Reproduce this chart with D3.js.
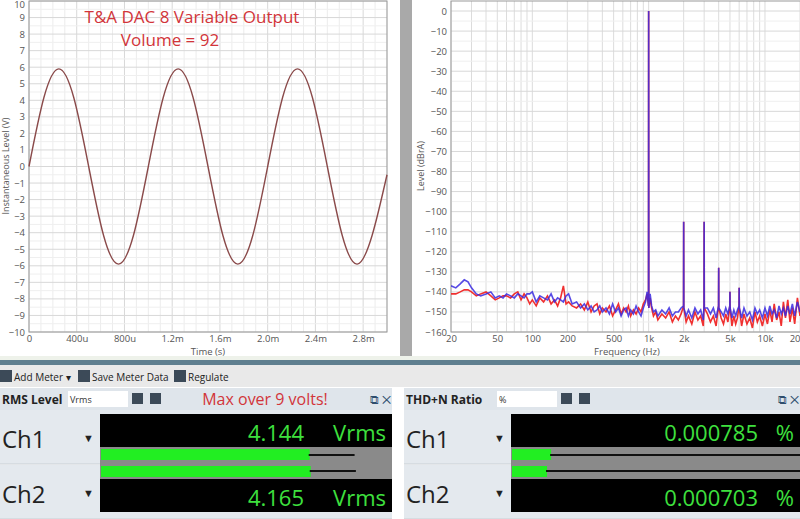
<!DOCTYPE html>
<html><head><meta charset="utf-8">
<script src="https://cdn.jsdelivr.net/npm/d3@7/dist/d3.min.js"></script>
<style>body{margin:0;background:#fff;font-family:"Open Sans",sans-serif}svg{display:block}</style>
</head><body><svg id="c" width="800" height="519"></svg>
<script>
// ---- waveform data (time in µs, volts) ----
const timeUs = [0,125,250,375,500,625,750,875,1000,1125,1250,1375,1500,1625,1750,1875,2000,2125,2250,2375,2500,2625,2750,2875,3000];
const volts  = [0,4.17,5.9,4.17,0,-4.17,-5.9,-4.17,0,4.17,5.9,4.17,0,-4.17,-5.9,-4.17,0,4.17,5.9,4.17,0,-4.17,-5.9,-4.17,-0.5];
const timeTicks = [0,400,800,1200,1600,2000,2400,2800];
const timeTickLabels = ["0","400u","800u","1.2m","1.6m","2.0m","2.4m","2.8m"];
// ---- spectrum data ----
const noiseFreq = [20,22,24,26,28,30,33,36,40,44, 48,52,56,60,65,70,75,80,85,90, 95,100,108,116,125,135,145,155,165,175, 185,195,205,220,240,260,280,300,320,340, 360,380,400,430,460,490,520,550,580,610, 640,670,700,740,780,820,860,900,940,970, 1030,1060,1100,1150,1200,1300,1400,1500,1600,1700, 1800,1900,2100,2200,2350,2500,2650,2800,2950,3200, 3400,3600,3800,4200,4400,4600,4800,5200,5400,5600, 5800,6300,6600,7000,7400,7800,8200,8600,9000,9500, 10000,10500,11000,11500,12000,12600,13200,13800,14400,15000, 15700,16400,17200,18000,19000,20000];
const redLevel = [-141,-141,-140,-139,-139,-140,-142,-141,-140,-142, -144,-143,-142,-142,-143,-141,-140,-144,-141,-143, -146,-144,-147,-143,-145,-142,-146,-144,-147,-143, -137,-146,-145,-147,-148,-146,-149,-145,-150,-147, -146,-151,-148,-150,-147,-152,-149,-146,-151,-148, -150,-147,-152,-149,-151,-148,-150,-146,-144,-141, -143,-148,-152,-150,-154,-151,-153,-150,-155,-152, -154,-151,-155,-152,-156,-150,-154,-152,-157,-151, -155,-152,-157,-153,-156,-151,-155,-157,-152,-156, -153,-157,-151,-156,-153,-158,-150,-155,-152,-157, -151,-156,-149,-155,-146,-154,-150,-157,-145,-153, -144,-155,-148,-156,-143,-152];
const blueLevel = [-137,-138,-136,-134,-135,-138,-141,-142,-141,-140, -143,-142,-143,-141,-142,-143,-141,-142,-143,-141, -141,-140,-145,-142,-143,-144,-141,-145,-143,-144, -145,-142,-141,-146,-145,-148,-146,-149,-147,-150, -149,-147,-150,-148,-151,-146,-150,-148,-152,-149, -148,-152,-149,-151,-147,-150,-152,-148,-145,-140, -141,-147,-150,-149,-152,-149,-151,-148,-152,-150, -150,-148,-152,-149,-153,-148,-151,-149,-154,-148, -151,-148,-153,-150,-152,-148,-151,-153,-149,-152, -149,-153,-148,-152,-150,-154,-148,-151,-149,-153, -148,-152,-147,-151,-149,-153,-147,-151,-148,-152, -147,-151,-146,-152,-145,-150];
const peakFreq = [1000,2000,3000,4000,5000,6000];
const peakLevel = [0,-105,-105,-128,-140,-138];
const freqTicks = [20,50,100,200,500,1000,2000,5000,10000,20000];
const freqTickLabels = ["20","50","100","200","500","1k","2k","5k","10k","20"];
// ---- meters ----
const rmsValues = [4.144,4.165];
const thdValues = [0.000785,0.000703];
const chNames = ["Ch1","Ch2"];

const svg = d3.select("#c");
const gray = "#555";
svg.append("rect").attr("x",0).attr("y",0).attr("width",800).attr("height",519).attr("fill","#fff");
svg.append("rect").attr("x",400).attr("y",0).attr("width",12).attr("height",358).attr("fill","#a9a9a9");
svg.append("rect").attr("x",0).attr("y",356).attr("width",800).attr("height",4).attr("fill","#eef2ea");
svg.append("rect").attr("x",0).attr("y",360).attr("width",800).attr("height",5).attr("fill","#5f7f8f");

// ===== left: waveform =====
const L = {x0:29,x1:387,y0:1,y1:332};
const xT = d3.scaleLinear().domain([0,3000]).range([L.x0,L.x1]);
const yV = d3.scaleLinear().domain([-10,10]).range([L.y1,L.y0]);
const gl = svg.append("g");
gl.selectAll(".gx").data(d3.range(0,3001,100)).join("line").attr("x1",xT).attr("x2",xT).attr("y1",L.y0).attr("y2",L.y1)
  .attr("stroke",d=>d%400===0?"#d8d8d8":"#ececec");
gl.selectAll(".gy").data(d3.range(-10,10.01,0.5)).join("line").attr("y1",yV).attr("y2",yV).attr("x1",L.x0).attr("x2",L.x1)
  .attr("stroke",d=>Number.isInteger(d)?"#d8d8d8":"#efefef");
gl.append("rect").attr("x",L.x0).attr("y",L.y0).attr("width",L.x1-L.x0).attr("height",L.y1-L.y0).attr("fill","none").attr("stroke","#999");
gl.append("g").attr("transform",`translate(0,${L.y1})`).call(d3.axisBottom(xT).tickValues(timeTicks).tickFormat((d,i)=>timeTickLabels[i]).tickSize(0).tickPadding(3))
  .call(g=>{g.select(".domain").remove();g.selectAll("text").attr("fill",gray).attr("font-size",9.5).attr("font-family","Open Sans");});
gl.append("g").attr("transform",`translate(${L.x0},0)`).call(d3.axisLeft(yV).ticks(20).tickSize(0).tickPadding(4))
  .call(g=>{g.select(".domain").remove();g.selectAll("text").attr("fill",gray).attr("font-size",9.5).attr("font-family","Open Sans");
    g.selectAll(".tick").filter(d=>d===10).select("text").attr("dy","0.7em");});
gl.append("text").attr("x",208).attr("y",355).attr("text-anchor","middle").attr("font-size",9.5).attr("fill",gray).text("Time (s)");
gl.append("text").attr("transform","translate(9,166) rotate(-90)").attr("text-anchor","middle").attr("font-size",9).attr("fill",gray).text("Instantaneous Level (V)");
gl.append("path").datum(timeUs.map((t,i)=>[t,volts[i]])).attr("fill","none").attr("stroke","#8a4a4a").attr("stroke-width",1.4)
  .attr("d",d3.line().x(d=>xT(d[0])).y(d=>yV(d[1])).curve(d3.curveNatural));
gl.append("text").attr("x",192).attr("y",23).attr("text-anchor","middle").attr("font-size",17).attr("fill","#d2353a").attr("font-family","Open Sans").text("T&A DAC 8 Variable Output");
gl.append("text").attr("x",170).attr("y",46).attr("text-anchor","middle").attr("font-size",17).attr("fill","#d2353a").attr("font-family","Open Sans").text("Volume = 92");

// ===== right: spectrum =====
const R = {x0:451,x1:800,y0:1,y1:332};
const xF = d3.scaleLog().domain([20,20000]).range([R.x0,R.x1]);
const yD = d3.scaleLinear().domain([-160,5]).range([R.y1,R.y0]);
const gr = svg.append("g");
const minor = [];
[10,100,1000,10000].forEach(dec=>{for(let k=1;k<10;k++){const f=dec*k; if(f>=20&&f<=20000) minor.push(f);}});
gr.selectAll(".fx").data(minor).join("line").attr("x1",xF).attr("x2",xF).attr("y1",R.y0).attr("y2",R.y1).attr("stroke","#dcdcdc");
gr.selectAll(".fy").data(d3.range(-160,1,5)).join("line").attr("y1",yD).attr("y2",yD).attr("x1",R.x0).attr("x2",R.x1)
  .attr("stroke",d=>d%10===0?"#d8d8d8":"#efefef");
gr.append("rect").attr("x",R.x0).attr("y",R.y0).attr("width",R.x1-R.x0+5).attr("height",R.y1-R.y0).attr("fill","none").attr("stroke","#999");
gr.append("g").attr("transform",`translate(0,${R.y1})`).call(d3.axisBottom(xF).tickValues(freqTicks).tickFormat((d,i)=>freqTickLabels[i]).tickSize(0).tickPadding(3))
  .call(g=>{g.select(".domain").remove();g.selectAll("text").attr("fill",gray).attr("font-size",9.5).attr("font-family","Open Sans");
    g.selectAll(".tick").filter(d=>d===20000).select("text").attr("text-anchor","end");});
gr.append("g").attr("transform",`translate(${R.x0},0)`).call(d3.axisLeft(yD).tickValues(d3.range(-160,1,10)).tickSize(0).tickPadding(4))
  .call(g=>{g.select(".domain").remove();g.selectAll("text").attr("fill",gray).attr("font-size",9.5).attr("font-family","Open Sans");});
gr.append("text").attr("x",627).attr("y",355).attr("text-anchor","middle").attr("font-size",9.5).attr("fill",gray).text("Frequency (Hz)");
gr.append("text").attr("transform","translate(424,166) rotate(-90)").attr("text-anchor","middle").attr("font-size",9).attr("fill",gray).text("Level (dBrA)");
function spectrum(levels){
  const pts = noiseFreq.map((f,i)=>[f,levels[i]]);
  peakFreq.forEach((f,i)=>{pts.push([f*0.997,-147]);pts.push([f,peakLevel[i]]);pts.push([f*1.003,-148]);});
  return pts.sort((a,b)=>a[0]-b[0]);
}
svg.append("clipPath").attr("id","rc").append("rect").attr("x",R.x0).attr("y",R.y0).attr("width",R.x1-R.x0).attr("height",R.y1-R.y0);
const lineF = d3.line().x(d=>xF(d[0])).y(d=>yD(d[1]));
gr.append("path").datum(spectrum(redLevel)).attr("clip-path","url(#rc)").attr("fill","none").attr("stroke","#f03030").attr("stroke-width",1.6).attr("d",lineF);
gr.append("path").datum(spectrum(blueLevel)).attr("clip-path","url(#rc)").attr("fill","none").attr("stroke","#3a2ae0").attr("stroke-width",1.6).attr("stroke-opacity",0.85).attr("d",lineF);

// ===== bottom meters =====
const gb = svg.append("g").attr("font-family","Open Sans");
gb.append("rect").attr("x",0).attr("y",365).attr("width",800).attr("height",22).attr("fill","#e9e9e9");
[["Add Meter ▾",12],["Save Meter Data",90],["Regulate",186]].forEach(([t,x])=>{
  gb.append("rect").attr("x",x-12).attr("y",370).attr("width",12).attr("height",12).attr("fill","#3c4a58");
  gb.append("text").attr("x",x+2).attr("y",381).attr("font-size",10).attr("fill","#222").text(t);
});
function panel(x0,x1,title,unitSel,vals,fmt,unit,scale,note){
  gb.append("rect").attr("x",x0).attr("y",388).attr("width",x1-x0).attr("height",22).attr("fill","#dfe5eb");
  gb.append("text").attr("x",x0+2).attr("y",404).attr("font-size",12).attr("font-weight","bold").attr("fill","#222").text(title);
  const sx = x0+(title.length>10?95:70);
  gb.append("rect").attr("x",sx-2).attr("y",391).attr("width",60).attr("height",16).attr("fill","#fff");
  gb.append("text").attr("x",sx).attr("y",403).attr("font-size",9).attr("fill","#333").text(unitSel);
  gb.append("rect").attr("x",sx+62).attr("y",393).attr("width",11).attr("height",11).attr("fill","#3c4a58");
  gb.append("rect").attr("x",sx+80).attr("y",393).attr("width",11).attr("height",11).attr("fill","#3c4a58");
  gb.append("text").attr("x",x1-22).attr("y",404).attr("font-size",12).attr("fill","#2d4d6d").text("⧉ ✕");
  if(note) gb.append("text").attr("x",265).attr("y",405).attr("text-anchor","middle").attr("font-size",16).attr("fill","#d2353a").text(note);
  const bx = x0+(title.length>10?107:100), bw = x1-bx;
  const xs = d3.scaleLinear().domain(scale).range([0,bw-10]);
  vals.forEach((v,i)=>{
    const top = 410+i*55;
    gb.append("rect").attr("x",x0).attr("y",top).attr("width",x1-x0).attr("height",54).attr("fill","#e4e9ee");
    gb.append("line").attr("x1",x0).attr("x2",x1).attr("y1",top+54).attr("y2",top+54).attr("stroke","#c8ced4");
    gb.append("text").attr("x",x0+2).attr("y",i===0?448:503).attr("font-size",24).attr("fill","#222").text(chNames[i]);
    gb.append("text").attr("x",bx-6).attr("y",i===0?442:497).attr("text-anchor","end").attr("font-size",11).attr("fill","#222").text("▼");
    const ny = i===0?414:479;
    gb.append("rect").attr("x",bx).attr("y",ny).attr("width",bw).attr("height",33).attr("fill","#000");
    gb.append("text").attr("x",x1-(unit==="%"?42:88)).attr("y",ny+27).attr("text-anchor","end").attr("font-size",22).attr("fill","#3ee03e").text(fmt(v));
    gb.append("text").attr("x",x1-6).attr("y",ny+27).attr("text-anchor","end").attr("font-size",22).attr("fill","#3ee03e").text(unit);
    const by = i===0?447:463;
    gb.append("rect").attr("x",bx).attr("y",by).attr("width",bw).attr("height",16).attr("fill","#8a8a8a");
    gb.append("rect").attr("x",bx+1).attr("y",by+(i===0?2:3)).attr("width",xs(v)).attr("height",11).attr("fill","#22ee22");
    gb.append("rect").attr("x",bx+xs(v)).attr("y",by+7).attr("width",unit==="%"?bw-xs(v):xs(v)*0.22).attr("height",2).attr("fill","#111");
  });
}
panel(0,392,"RMS Level","Vrms",rmsValues,d=>d.toFixed(3),"Vrms",[0,5.6],"Max over 9 volts!");
panel(404,800,"THD+N Ratio","%",thdValues,d=>d.toFixed(6),"%",[0,0.0056],null);
</script></body></html>
